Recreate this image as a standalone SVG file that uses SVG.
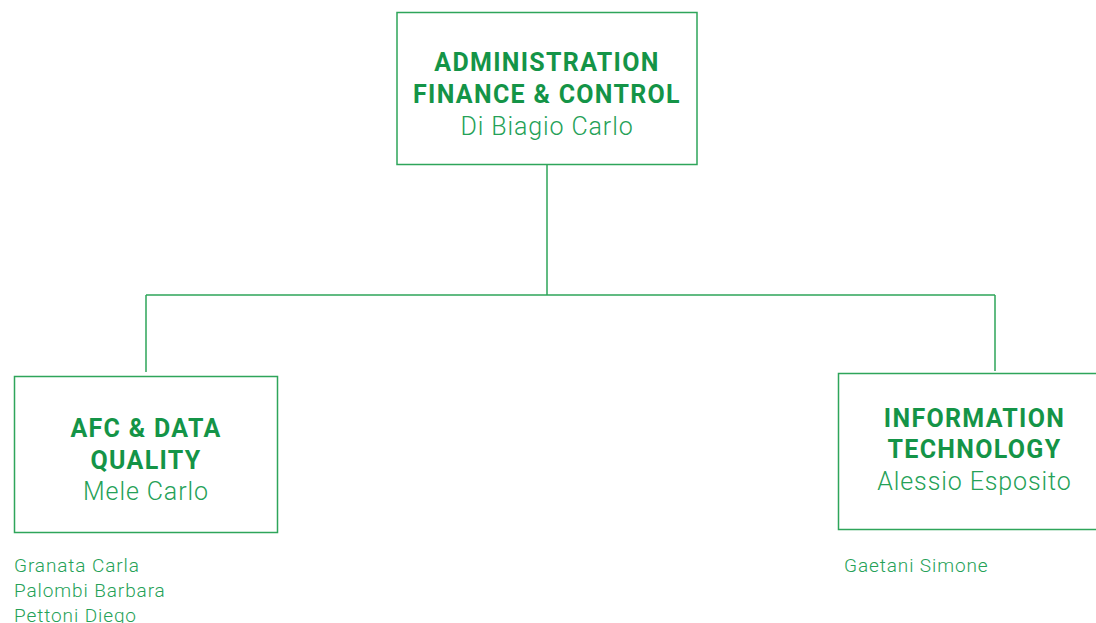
<svg xmlns="http://www.w3.org/2000/svg" width="1096" height="623" viewBox="0 0 1096 623">
<style>
.box{fill:#fff;stroke:#2ea55a;stroke-width:1.5}
.con{fill:none;stroke:#2ea55a;stroke-width:1.5}
.t{font-family:Roboto,"Liberation Sans",sans-serif;font-weight:700;font-size:25px;letter-spacing:1.3px;fill:#149447;text-anchor:middle}
.n{font-family:Roboto,"Liberation Sans",sans-serif;font-weight:300;font-size:25px;letter-spacing:0.9px;fill:#25a157;text-anchor:middle}
.s{font-family:Roboto,"Liberation Sans",sans-serif;font-weight:300;font-size:19px;letter-spacing:0.9px;fill:#25a157}
</style>
<rect width="1096" height="623" fill="#fff"/>
<g id="connectors">
<path class="con" d="M547 164V295M146 295H995M146 295V372M995 295V371"/>
</g>
<g id="node-afc">
<rect class="box" x="397" y="12.5" width="300" height="152"/>
<text class="t" x="547" y="71">ADMINISTRATION</text>
<text class="t" x="547" y="103">FINANCE &amp; CONTROL</text>
<text class="n" x="547" y="135">Di Biagio Carlo</text>
</g>
<g id="node-dq">
<rect class="box" x="14.5" y="376.5" width="263" height="156"/>
<text class="t" x="146" y="437">AFC &amp; DATA</text>
<text class="t" x="146" y="469">QUALITY</text>
<text class="n" x="146" y="500">Mele Carlo</text>
<text class="s" x="14" y="572">Granata Carla</text>
<text class="s" x="14" y="597">Palombi Barbara</text>
<text class="s" x="14" y="622">Pettoni Diego</text>
</g>
<g id="node-it">
<rect class="box" x="838.5" y="373.5" width="272" height="156"/>
<text class="t" x="974.5" y="427">INFORMATION</text>
<text class="t" x="974.5" y="458">TECHNOLOGY</text>
<text class="n" x="974.5" y="490">Alessio Esposito</text>
<text class="s" x="844" y="572">Gaetani Simone</text>
</g>
</svg>
